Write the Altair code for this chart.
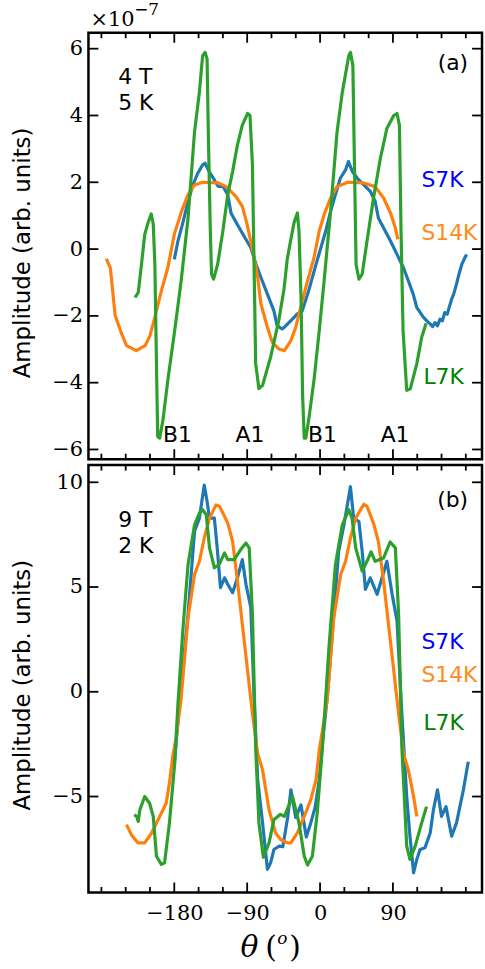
import altair as alt
import pandas as pd

# ---------------- data ----------------
# Panel (a): 4 T, 5 K  (values in units of 1e-7)
a_s7k_deg = [-180, -175.5, -169, -163, -157, -151, -145, -142, -137, -130.5, -126, -120, -114, -110, -102,
             -94, -85.5, -79, -73, -65, -57, -53, -47, -44, -36, -28, -22, -13.5, -5, 1, 7, 13, 19, 25,
             31.5, 35, 40, 46, 54, 62, 68, 72, 78.5, 87, 95, 103, 109, 115, 119.5, 127.5, 133, 136, 139,
             142, 145, 148, 151, 154, 157, 160, 162.5, 165, 168.5, 171, 175, 178, 181]
a_s7k_val = [-0.31, 0.24, 0.83, 1.43, 1.92, 2.27, 2.52, 2.57, 2.32, 2.07, 1.88, 1.88, 1.63, 1.08, 0.73,
             0.39, 0.04, -0.46, -0.85, -1.35, -1.85, -2.29, -2.39, -2.34, -2.14, -1.94, -1.85, -1.2, -0.46,
             0.04, 0.54, 1.13, 1.63, 2.12, 2.37, 2.62, 2.32, 2.12, 1.92, 1.73, 1.43, 0.93, 0.63, 0.24,
             -0.16, -0.56, -0.95, -1.35, -1.75, -2.04, -2.18, -2.24, -2.32, -2.2, -2.3, -2.1, -2.15, -1.9,
             -1.95, -1.7, -1.5, -1.35, -1.05, -0.8, -0.46, -0.3, -0.16]

a_s14k_deg = [-264, -259, -253, -245, -239, -227, -216, -210, -204, -196, -188, -180, -171, -163, -155,
              -145, -126, -116, -104, -96, -90, -83, -77, -73, -65, -59, -51, -44, -36, -30, -24, -15.5,
              -7.5, -1, 5, 13, 21, 34, 54, 64, 68, 78.5, 87, 93, 96]
a_s14k_val = [-0.29, -0.56, -1.99, -2.54, -2.89, -3.04, -2.89, -2.59, -2.04, -1.25, -0.56, 0.44, 1.13,
              1.63, 1.92, 2.0, 1.98, 1.87, 1.58, 1.28, 0.73, -0.06, -0.85, -1.65, -2.34, -2.79, -2.99,
              -3.04, -2.74, -2.34, -1.75, -0.95, -0.26, 0.54, 1.03, 1.53, 1.87, 2.0, 1.98, 1.9, 1.87,
              1.53, 1.08, 0.63, 0.29]

a_l7k_deg = [-228.5, -224.5, -220.5, -216.5, -212.5, -208.5, -206, -204, -202, -200.5, -198, -194, -188,
             -179.5, -171.5, -163, -155, -149, -145, -142, -139.5, -138, -135.5, -134, -131.5, -126.5,
             -120, -114, -108, -102, -96, -89.5, -86.5, -83.5, -81.5, -79.5, -75.5, -71, -61, -51,
             -44.5, -40.5, -36, -32, -28, -26, -23.5, -21.5, -19.5, -17.5, -13.5, -7.5, -1, 5, 13, 21,
             27.5, 35.5, 37.5, 40.5, 42.5, 44.5, 48, 52, 58, 66, 74.5, 82.5, 91, 95, 98, 100, 102.5, 107,
             111.5, 119.5, 125.5, 131]
a_l7k_val = [-1.45, -1.3, -0.46, 0.44, 0.78, 1.05, 0.75, -0.46, -3.43, -5.62, -5.66, -5.12, -3.93,
             -2.44, -0.95, 0.93, 3.51, 4.70, 5.79, 5.89, 5.69, 3.51, 0.54, -0.75, -0.90, -0.46, 0.54,
             1.63, 2.32, 3.12, 3.71, 4.06, 4.0, 2.52, -0.46, -3.43, -4.18, -4.08, -3.23, -2.14, -1.2,
             -0.3, 0.3, 0.8, 1.08, 0.54, -1.45, -4.42, -5.66, -5.66, -5.02, -3.93, -2.44, -0.95, 1.13,
             3.51, 4.70, 5.79, 5.89, 5.5, 2.52, -0.46, -0.9, -0.75, 0.24, 1.53, 2.72, 3.61, 4.0, 4.06,
             3.71, 0.54, -2.44, -4.23, -4.18, -3.43, -2.64, -2.22]

# Panel (b): 9 T, 2 K
b_s7k_deg = [-180, -172, -163, -155, -149, -143, -139.5, -136.5, -130.5, -127, -123, -118, -114, -108,
             -102, -96, -91.5, -85.5, -81.5, -77, -71, -65, -61, -57, -50.5, -46, -40, -36, -30, -23.5,
             -17, -11, -6, -1, 3, 9, 17, 23, 29.5, 37.5, 41.5, 48, 52, 56, 62, 70.5, 76.5, 82.5, 89,
             95, 101, 107, 111, 115.5, 119.5, 123.5, 129.5, 136, 140, 145, 150, 155.5, 162.5, 168.5,
             177, 183]
b_s7k_val = [-3.5, 0.2, 3.7, 7.66, 8.29, 9.87, 9.08, 8.29, 8.29, 6.87, 4.97, 5.44, 5.13, 4.73, 5.44,
             6.31, 5.13, 4.02, -0.25, -4.21, -6.26, -8.48, -8.16, -7.53, -7.37, -7.4, -6.0, -4.68, -6.0,
             -5.4, -6.93, -6.2, -5.5, -4.2, -2.4, -0.25, 3.70, 6.71, 7.97, 9.79, 8.29, 8.13, 6.71, 4.89,
             5.44, 4.65, 5.44, 6.23, 4.65, 3.39, -1.04, -5.0, -6.89, -8.64, -8.0, -7.53, -7.45, -6.74,
             -5.63, -4.68, -5.95, -5.48, -6.89, -6.26, -4.68, -3.34]

b_s14k_deg = [-239, -233, -225, -216.5, -208, -200, -190, -186, -182, -177.5, -171.5, -163, -155, -149,
              -143, -136.5, -128.5, -124, -114, -108, -102, -96, -89.5, -83.5, -77, -71, -63, -55,
              -48.5, -40, -36, -28, -19.5, -11.5, -5, -1, 3, 9, 17, 25.5, 31.5, 37.5, 44, 54, 58, 66,
              72, 78.5, 84.5, 91, 97, 103, 109, 115.5, 119.5]
b_s14k_val = [-6.34, -6.82, -7.21, -7.21, -6.74, -6.11, -5.32, -4.37, -3.10, -2.15, -0.3, 3.54, 5.6,
              6.23, 7.34, 8.29, 8.92, 8.85, 8.05, 7.18, 5.28, 3.23, 1.01, -1.04, -2.94, -3.73, -5.63,
              -6.74, -7.06, -7.21, -7.21, -6.74, -5.95, -5.16, -4.21, -2.78, -1.84, -0.3, 3.54, 5.6,
              6.23, 7.34, 8.29, 8.95, 8.85, 8.05, 7.18, 5.28, 3.23, 1.01, -1.04, -2.94, -3.73, -5.0,
              -5.95]

b_l7k_deg = [-229.5, -226.5, -224.5, -222.5, -216.5, -210.5, -206, -202, -196, -192, -186, -179.5,
             -175.5, -169.5, -163, -155, -149, -145, -140.5, -136.5, -130.5, -124.5, -118, -114, -106,
             -98, -91.5, -87.5, -83.5, -79.5, -75.5, -70, -63, -57, -49, -44, -34, -26, -19.5, -15.5,
             -9.5, -3.5, 3, 11, 19, 27.5, 35.5, 39.5, 44, 52, 58, 63, 68, 78.5, 86.5, 93, 97, 101, 107,
             111, 117.5, 125.5, 131.5]
b_l7k_val = [-5.87, -5.95, -6.19, -5.63, -5.0, -5.32, -5.95, -7.85, -8.24, -8.16, -6.26, -3.42, -0.57,
             2.91, 6.08, 7.97, 8.53, 8.69, 8.45, 6.87, 5.92, 6.08, 6.63, 6.31, 6.31, 6.79, 7.1, 6.87,
             3.70, -2.63, -6.26, -7.9, -7.21, -6.11, -5.85, -5.95, -5.0, -6.26, -7.85, -8.27, -7.85,
             -5.79, -2.63, 2.12, 6.08, 7.97, 8.69, 8.29, 6.87, 5.76, 6.23, 6.68, 6.23, 6.39, 7.15, 6.87,
             3.70, -2.63, -7.37, -8.0, -7.37, -6.26, -5.48]

# tick values
x_major = [-180, -90, 0, 90]
x_minor = [-270, -240, -210, -150, -120, -60, -30, 30, 60, 120, 150, 180]
ya_ticks = [-6, -4, -2, 0, 2, 4, 6]
yb_ticks = [-5, 0, 5, 10]

# ---------------- layout / style ----------------
W = 396
HA = 429
HB = 430
XDOM = [-286, 200]
YDOM_A = [-6.29, 6.476]
YDOM_B = [-9.58, 10.82]
C_BLUE, C_ORANGE, C_GREEN = "#1f77b4", "#ff7f0e", "#2ca02c"
SERIF = "DejaVu Serif"
SANS = "DejaVu Sans"
TICK_W = 1.8
TICK_FS = 21


def xscale():
    return alt.Scale(domain=XDOM, nice=False, zero=False)


def yscale(dom):
    return alt.Scale(domain=dom, nice=False, zero=False)


def yaxis(vals):
    return alt.Axis(values=vals, ticks=False, tickSize=0, domain=False, grid=False,
                    labelFont=SERIF, labelFontSize=TICK_FS, labelColor="black", labelPadding=6,
                    title="Amplitude (arb. units)", titleFont=SANS, titleFontSize=23,
                    titleFontWeight="normal", titleColor="black", titleAngle=270,
                    titleX=-59, titleY=221, titleBaseline="alphabetic", titleAlign="center")


def xaxis(show):
    if not show:
        return None
    return alt.Axis(values=x_major, ticks=False, tickSize=0, domain=False, grid=False,
                    labelFont=SERIF, labelFontSize=TICK_FS, labelColor="black", labelPadding=10,
                    title=None)


def curve(deg, val, color, ydom, vals, show_x):
    df = pd.DataFrame({"deg": deg, "val": val})
    return alt.Chart(df).mark_line(color=color, strokeWidth=3.2, clip=True,
                                   strokeJoin="round", strokeCap="butt").encode(
        x=alt.X("deg:Q", scale=xscale(), axis=xaxis(show_x)),
        y=alt.Y("val:Q", scale=yscale(ydom), axis=yaxis(vals)),
    )


def xticks(vals, length, H, show_x):
    df = pd.DataFrame({"deg": vals})
    top = alt.Chart(df).mark_rule(color="black", strokeWidth=TICK_W).encode(
        x=alt.X("deg:Q", scale=xscale(), axis=xaxis(show_x)), y=alt.value(0), y2=alt.value(length))
    bot = alt.Chart(df).mark_rule(color="black", strokeWidth=TICK_W).encode(
        x=alt.X("deg:Q", scale=xscale(), axis=xaxis(show_x)), y=alt.value(H), y2=alt.value(H - length))
    return [top, bot]


def yticks(vals, length, ydom):
    df = pd.DataFrame({"val": vals})
    left = alt.Chart(df).mark_rule(color="black", strokeWidth=TICK_W).encode(
        y=alt.Y("val:Q", scale=yscale(ydom), axis=yaxis(vals)), x=alt.value(0), x2=alt.value(length))
    right = alt.Chart(df).mark_rule(color="black", strokeWidth=TICK_W).encode(
        y=alt.Y("val:Q", scale=yscale(ydom), axis=yaxis(vals)), x=alt.value(W), x2=alt.value(W - length))
    return [left, right]


def label(text, x, y, size=22, color="black", font=SANS, align="left", style="normal"):
    return alt.Chart(pd.DataFrame({"t": [text]})).mark_text(
        align=align, baseline="alphabetic", font=font, fontSize=size, color=color,
        fontStyle=style).encode(x=alt.value(x), y=alt.value(y), text="t:N")


# ---------------- panel (a) ----------------
layers_a = [
    curve(a_s7k_deg, a_s7k_val, C_BLUE, YDOM_A, ya_ticks, False),
    curve(a_s14k_deg, a_s14k_val, C_ORANGE, YDOM_A, ya_ticks, False),
    curve(a_l7k_deg, a_l7k_val, C_GREEN, YDOM_A, ya_ticks, False),
]
layers_a += xticks(x_major, 10, HA, False) + xticks(x_minor, 5.5, HA, False)
layers_a += yticks(ya_ticks, 10, YDOM_A)
layers_a += [
    label("×10", 2, -7, size=21, font=SERIF),
    label("−7", 46, -18, size=17, font=SERIF),
    label("4 T", 30, 52),
    label("5 K", 30, 78),
    label("(a)", 382, 37, align="right"),
    label("S7K", 335, 155, color="#0000ff"),
    label("S14K", 335, 208, color="#ff8c1a"),
    label("L7K", 337, 353, color="#008000"),
    label("B1", 75, 412),
    label("A1", 148, 412),
    label("B1", 221, 412),
    label("A1", 294, 412),
]
panel_a = alt.layer(*layers_a).properties(width=W, height=HA)

# ---------------- panel (b) ----------------
layers_b = [
    curve(b_s7k_deg, b_s7k_val, C_BLUE, YDOM_B, yb_ticks, True),
    curve(b_s14k_deg, b_s14k_val, C_ORANGE, YDOM_B, yb_ticks, True),
    curve(b_l7k_deg, b_l7k_val, C_GREEN, YDOM_B, yb_ticks, True),
]
layers_b += xticks(x_major, 10, HB, True) + xticks(x_minor, 5.5, HB, True)
layers_b += yticks(yb_ticks, 10, YDOM_B)
layers_b += [
    label("9 T", 30, 62),
    label("2 K", 30, 88),
    label("(b)", 382, 42, align="right"),
    label("S7K", 335, 185, color="#0000ff"),
    label("S14K", 335, 218, color="#ff8c1a"),
    label("L7K", 337, 267, color="#008000"),
    # x-axis title  θ (ᵒ)
    label("θ", 153, 495, size=30, font=SERIF, style="italic"),
    label("(", 178, 495, size=30, font=SERIF),
    label("o", 190, 482, size=17, font=SERIF, style="italic"),
    label(")", 202, 495, size=30, font=SERIF),
]
panel_b = alt.layer(*layers_b).properties(width=W, height=HB)

chart = alt.vconcat(panel_a, panel_b, spacing=0).properties(
    padding={"left": 10, "top": -4, "right": 0, "bottom": 0}
).configure_view(stroke="black", strokeWidth=2.5)

chart.save("out.html", embed_options={"renderer": "svg", "actions": False})
